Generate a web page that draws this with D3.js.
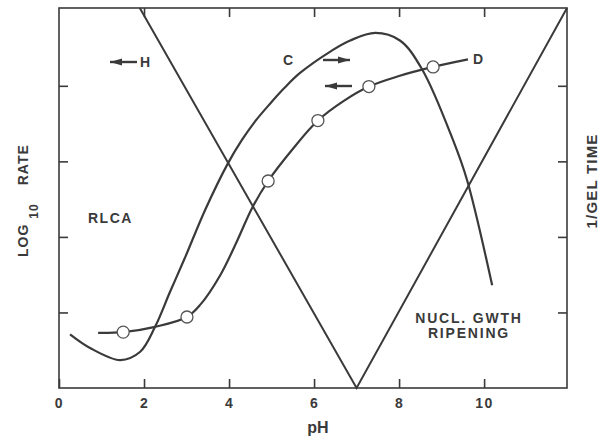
<!DOCTYPE html>
<html>
<head>
<meta charset="utf-8">
<script src="https://cdn.jsdelivr.net/npm/d3@7"></script>
<style>
body { margin: 0; background: #fff; }
text { font-family: "Liberation Sans", Arial, sans-serif; font-weight: bold; fill: #3a3a3a; }
</style>
</head>
<body>
<div id="chart"></div>
<script>
// axis ticks
var xTicks = [0, 2, 4, 6, 8, 10];
var yTicks = [1, 2, 3, 4];

// curve C
var cPH   = [0.26, 0.73, 1.44, 1.91, 2.26, 2.61, 2.96, 3.44, 3.98, 4.3, 4.6, 4.96, 5.3, 5.67, 6.4, 6.85, 7.44, 8.02, 8.54, 9.27, 9.6, 10.19];
var cRate = [0.71, 0.53, 0.37, 0.48, 0.81, 1.27, 1.72, 2.36, 2.98, 3.28, 3.52, 3.76, 3.97, 4.17, 4.46, 4.6, 4.70, 4.60, 4.22, 3.28, 2.75, 1.36];

// curve D
var dPH   = [0.92, 1.51, 2.26, 3.01, 3.32, 3.8, 4.2, 4.54, 4.92, 5.48, 6.09, 6.7, 7.29, 8.0, 8.8, 9.62];
var dRate = [0.73, 0.74, 0.81, 0.94, 1.1, 1.5, 1.96, 2.38, 2.74, 3.15, 3.54, 3.8, 3.99, 4.13, 4.25, 4.35];

// open circles on D
var markPH   = [1.51, 3.01, 4.92, 6.09, 7.29, 8.8];
var markRate = [0.74, 0.94, 2.74, 3.54, 3.99, 4.25];

// the V (gel time) lines
var vPH   = [1.9, 7.0, 11.95];
var vRate = [5.03, 0, 5.03];

var W = 601, H = 438;
var ink = "#3a3a3a";

var svg = d3.select("#chart").append("svg")
    .attr("width", W)
    .attr("height", H);

var x = d3.scaleLinear().domain([0, 11.95]).range([59, 567]);
var y = d3.scaleLinear().domain([0, 5.03]).range([388, 8]);

// frame
svg.append("rect")
    .attr("x", x(0)).attr("y", y(5.03))
    .attr("width", x(11.95) - x(0))
    .attr("height", y(0) - y(5.03))
    .style("fill", "none").style("stroke", ink).style("stroke-width", 1.6);

// axes, ticks pointing inward
var gB = svg.append("g").attr("transform", "translate(0," + y(0) + ")")
    .call(d3.axisBottom(x).tickValues(xTicks).tickSize(-9).tickPadding(10).tickFormat(d3.format("d")));
var gT = svg.append("g").attr("transform", "translate(0," + y(5.03) + ")")
    .call(d3.axisTop(x).tickValues(xTicks.slice(1)).tickSize(-9).tickFormat(""));
var gL = svg.append("g").attr("transform", "translate(" + x(0) + ",0)")
    .call(d3.axisLeft(y).tickValues(yTicks).tickSize(-9).tickFormat(""));
var gR = svg.append("g").attr("transform", "translate(" + x(11.95) + ",0)")
    .call(d3.axisRight(y).tickValues(yTicks).tickSize(-9).tickFormat(""));

[gB, gT, gL, gR].forEach(function(g) {
    g.select(".domain").remove();
    g.selectAll("line").style("stroke", ink).style("stroke-width", 1.6);
});
gB.selectAll("text")
    .style("font-family", "'Liberation Sans', Arial, sans-serif")
    .style("font-weight", "bold")
    .style("font-size", "14px")
    .style("letter-spacing", "1.5px")
    .style("fill", ink);

var line = d3.line()
    .x(function(d) { return x(d[0]); })
    .y(function(d) { return y(d[1]); })
    .curve(d3.curveCatmullRom.alpha(0.5));

var lineStraight = d3.line()
    .x(function(d) { return x(d[0]); })
    .y(function(d) { return y(d[1]); });

// V lines
svg.append("path")
    .datum(d3.zip(vPH, vRate))
    .attr("d", lineStraight)
    .style("fill", "none").style("stroke", ink).style("stroke-width", 2);

// curve C
svg.append("path")
    .datum(d3.zip(cPH, cRate))
    .attr("d", line)
    .style("fill", "none").style("stroke", ink).style("stroke-width", 2.2);

// curve D
svg.append("path")
    .datum(d3.zip(dPH, dRate))
    .attr("d", line)
    .style("fill", "none").style("stroke", ink).style("stroke-width", 2.2);

svg.selectAll(".mark")
    .data(d3.zip(markPH, markRate))
    .enter().append("circle")
    .attr("class", "mark")
    .attr("cx", function(d) { return x(d[0]); })
    .attr("cy", function(d) { return y(d[1]); })
    .attr("r", 6)
    .style("fill", "#fff").style("stroke", "#555").style("stroke-width", 1.3);

// arrows
function arrow(x1, x2, yy, left) {
    svg.append("line")
        .attr("x1", x1).attr("x2", x2).attr("y1", yy).attr("y2", yy)
        .style("stroke", ink).style("stroke-width", 2.4);
    var tip = left ? x1 : x2, dir = left ? 1 : -1;
    svg.append("path")
        .attr("d", "M" + tip + "," + yy + "L" + (tip + dir * 12) + "," + (yy - 3.5) +
                   "L" + (tip + dir * 12) + "," + (yy + 3.5) + "Z")
        .style("fill", ink);
}
arrow(110, 137, 62, true);
arrow(323, 350, 60, false);
arrow(325, 352, 86, true);

function label(t, px, py, size, anchor, ls) {
    return svg.append("text")
        .attr("x", px).attr("y", py)
        .attr("text-anchor", anchor || "start")
        .style("font-size", size + "px")
        .style("letter-spacing", (ls || 0) + "px")
        .text(t);
}
label("H", 140, 67, 14);
label("C", 283, 65, 14);
label("D", 473, 64, 14);
label("RLCA", 88, 223, 14, "start", 1.5);
label("NUCL. GWTH", 469, 323, 14, "middle", 1.8);
label("RIPENING", 469, 338, 14, "middle", 1.8);
label("pH", 318, 433, 16, "middle");

// y titles
var yl = svg.append("text")
    .attr("transform", "translate(28,0) rotate(-90)")
    .style("font-size", "14px")
    .style("letter-spacing", "1px");
yl.append("tspan").attr("x", -257).text("LOG");
yl.append("tspan").attr("dx", 5).attr("dy", 10).style("font-size", "12px").text("10");
yl.append("tspan").attr("dx", 18).attr("dy", -10).text("RATE");

svg.append("text")
    .attr("transform", "translate(597,181) rotate(-90)")
    .attr("text-anchor", "middle")
    .style("font-size", "15px")
    .style("letter-spacing", "1.2px")
    .text("1/GEL TIME");
</script>
</body>
</html>
